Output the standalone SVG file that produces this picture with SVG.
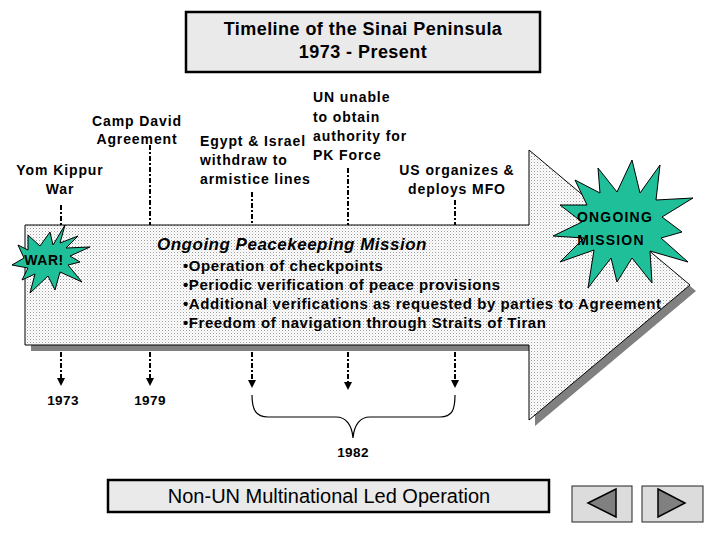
<svg xmlns="http://www.w3.org/2000/svg" width="720" height="540" viewBox="0 0 720 540">
<defs>
<pattern id="dots" width="3" height="3" patternUnits="userSpaceOnUse">
<rect width="3" height="3" fill="#ffffff"/>
<rect x="0" y="0" width="1" height="1" fill="#9a9a9a"/>
<rect x="1.5" y="1.5" width="1" height="1" fill="#c8c8c8"/>
</pattern>
<marker id="ah" markerWidth="8" markerHeight="8" refX="4" refY="4" orient="auto" markerUnits="userSpaceOnUse">
<path d="M0,0 L8,4 L0,8 Z" fill="#000"/>
</marker>
<style>
.t{font-family:"Liberation Sans",Arial,sans-serif;font-weight:bold;font-size:14px;letter-spacing:0.9px;fill:#000}
.c{text-anchor:middle}
.ln{stroke:#000;stroke-width:2;stroke-dasharray:5 2 2 2;fill:none}
.box{fill:#eaeaea;stroke:#000;stroke-width:2.5}
.star{fill:#1fbf9a;stroke:#000;stroke-width:1}
.btn{fill:#dcdcdc;stroke:#222;stroke-width:1}
.tri{fill:#808080;stroke:#000;stroke-width:1.5}
.b{font-size:15px;letter-spacing:0.57px}
.yr{font-size:13.5px;letter-spacing:0.4px}
</style>
</defs>
<rect width="720" height="540" fill="#fff"/>

<g id="title">
<rect class="box" x="186" y="12" width="354" height="60"/>
<text class="t c" x="363" y="35" style="font-size:18px;letter-spacing:0.45px">Timeline of the Sinai Peninsula</text>
<text class="t c" x="363" y="58" style="font-size:18px;letter-spacing:0.45px">1973 - Present</text>
</g>

<g id="arrow">
<polygon points="31,231 535,231 535,156 696,291 535,426 535,351 31,351" fill="#808080"/>
<polygon points="25,225 529,225 529,150 690,285 529,420 529,345 25,345" fill="url(#dots)" stroke="#000" stroke-width="1"/>
<text class="t" x="157" y="250" style="font-size:17px;font-style:italic;letter-spacing:0.5px">Ongoing Peacekeeping Mission</text>
<text class="t b" x="183" y="271">•Operation of checkpoints</text>
<text class="t b" x="183" y="290">•Periodic verification of peace provisions</text>
<text class="t b" x="183" y="309">•Additional verifications as requested by parties to Agreement</text>
<text class="t b" x="183" y="328">•Freedom of navigation through Straits of Tiran</text>
</g>

<g id="connectors">
<line class="ln" x1="61" y1="205" x2="61" y2="225"/>
<line class="ln" x1="150" y1="145" x2="150" y2="225"/>
<line class="ln" x1="252" y1="192" x2="252" y2="225"/>
<line class="ln" x1="348" y1="168" x2="348" y2="225"/>
<line class="ln" x1="455" y1="200" x2="455" y2="225"/>
<line class="ln" x1="61" y1="352" x2="61" y2="382" marker-end="url(#ah)"/>
<line class="ln" x1="150" y1="352" x2="150" y2="382" marker-end="url(#ah)"/>
<line class="ln" x1="252" y1="352" x2="252" y2="384" marker-end="url(#ah)"/>
<line class="ln" x1="348" y1="352" x2="348" y2="386" marker-end="url(#ah)"/>
<line class="ln" x1="455" y1="352" x2="455" y2="384" marker-end="url(#ah)"/>
<path d="M252,395 C252,410 256,417 268,417 L336,417 C346,417 352,425 353,438 C354,425 360,417 370,417 L440,417 C452,417 455,410 455,395" fill="none" stroke="#000" stroke-width="1.2"/>
</g>

<g id="war">
<polygon class="star" points="50,232 53,245 65,225 60,243 78,236 66,248 90,247 70,256 80,262 68,265 82,282 60,272 55,290 48,276 30,293 35,274 22,280 28,268 12,265 24,258 18,245 28,250 28,235 40,246"/>
<text class="t c" x="44" y="265" style="letter-spacing:0.6px">WAR!</text>
</g>

<g id="ongoing">
<polygon class="star" points="632,160 640,193 660,165 656,200 693,198 662,217 682,232 661,238 688,262 650,251 652,283 632,258 617,282 611,258 588,288 594,250 560,262 584,238 553,236 582,222 560,205 587,205 575,180 600,193 598,168 617,192"/>
<text class="t c" x="615" y="222" style="font-size:14px;letter-spacing:1.2px">ONGOING</text>
<text class="t c" x="611" y="245" style="font-size:14px;letter-spacing:1.2px">MISSION</text>
</g>

<g id="yom">
<text class="t c" x="60" y="175">Yom Kippur</text>
<text class="t c" x="60" y="194">War</text>
</g>
<g id="camp">
<text class="t c" x="137" y="126">Camp David</text>
<text class="t c" x="137" y="144">Agreement</text>
</g>
<g id="egypt">
<text class="t" x="200" y="146">Egypt &amp; Israel</text>
<text class="t" x="200" y="165">withdraw to</text>
<text class="t" x="200" y="184">armistice lines</text>
</g>
<g id="un">
<text class="t" x="313" y="102">UN unable</text>
<text class="t" x="313" y="122">to obtain</text>
<text class="t" x="313" y="141">authority for</text>
<text class="t" x="313" y="160">PK Force</text>
</g>
<g id="us">
<text class="t c" x="457" y="175">US organizes &amp;</text>
<text class="t c" x="457" y="194">deploys MFO</text>
</g>

<g id="years">
<text class="t c yr" x="63" y="405">1973</text>
<text class="t c yr" x="150" y="405">1979</text>
<text class="t c yr" x="353" y="457">1982</text>
</g>

<g id="footer">
<rect class="box" x="108" y="480" width="441" height="32"/>
<text x="329" y="503" text-anchor="middle" style="font-family:'Liberation Sans',Arial,sans-serif;font-size:20px;fill:#000">Non-UN Multinational Led Operation</text>
</g>

<g id="nav-prev">
<rect class="btn" x="572" y="486" width="60" height="36"/>
<polygon class="tri" points="588,503 616,489 616,517"/>
</g>
<g id="nav-next">
<rect class="btn" x="642" y="486" width="61" height="36"/>
<polygon class="tri" points="658,489 685,503 658,517"/>
</g>
</svg>
